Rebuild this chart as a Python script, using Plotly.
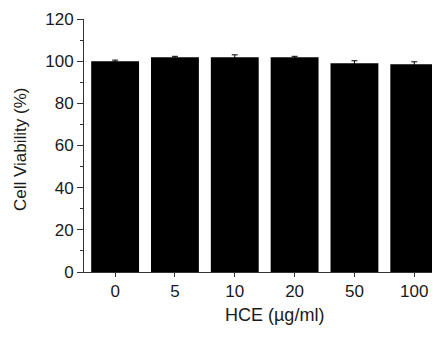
import plotly.graph_objects as go

categories = ["0", "5", "10", "20", "50", "100"]
viability = [100.0, 101.8, 101.8, 101.8, 99.0, 98.5]
errors = [0.5, 0.5, 1.2, 0.5, 1.2, 1.2]
y_ticks = [0, 20, 40, 60, 80, 100, 120]

fig = go.Figure()
fig.add_trace(go.Bar(
    x=list(range(len(categories))),
    y=viability,
    width=0.8,
    marker=dict(color="black", line=dict(width=0)),
    error_y=dict(type="data", array=errors, color="black", thickness=1, width=3),
))

fam = "Liberation Sans, Arial, sans-serif"
tickfont = dict(family=fam, size=17, color="#1a1a1a")
titlefont = dict(family=fam, size=17, color="#1a1a1a")

# page body has an 8px margin, so the figure is sized/positioned to compensate
W, H = 432, 331
L, R, T, B = 76, 0, 11, 67
pw, ph = W - L - R, H - T - B

fig.update_layout(
    width=W, height=H,
    margin=dict(l=L, r=R, t=T, b=B),
    plot_bgcolor="white", paper_bgcolor="white",
    showlegend=False,
    xaxis=dict(
        range=[-0.52, 5.43],
        tickvals=list(range(len(categories))),
        ticktext=categories,
        showline=True, linecolor="#333", linewidth=1,
        ticks="outside", ticklen=4, tickcolor="#333",
        showgrid=False, zeroline=False,
        tickfont=tickfont,
    ),
    yaxis=dict(
        range=[0, 120],
        tickvals=y_ticks,
        showline=True, linecolor="#333", linewidth=1,
        ticks="outside", ticklen=6, tickcolor="#333",
        minor=dict(dtick=10, ticks="outside", ticklen=3, tickcolor="#333"),
        showgrid=False, zeroline=False,
        tickfont=tickfont,
    ),
    annotations=[
        dict(
            text="HCE (\u00b5g/ml)", xref="paper", yref="paper",
            x=(266 - L) / pw, y=(264 - 307) / ph, xanchor="center", yanchor="middle",
            showarrow=False, font=dict(family=fam, size=18, color="#1a1a1a"),
        ),
        dict(
            text="Cell Viability (%)", xref="paper", yref="paper",
            x=(12 - L) / pw, y=(264 - 142) / ph, xanchor="center", yanchor="middle",
            textangle=-90, showarrow=False, font=titlefont,
        ),
    ],
)

fig.write_html("out.html")
